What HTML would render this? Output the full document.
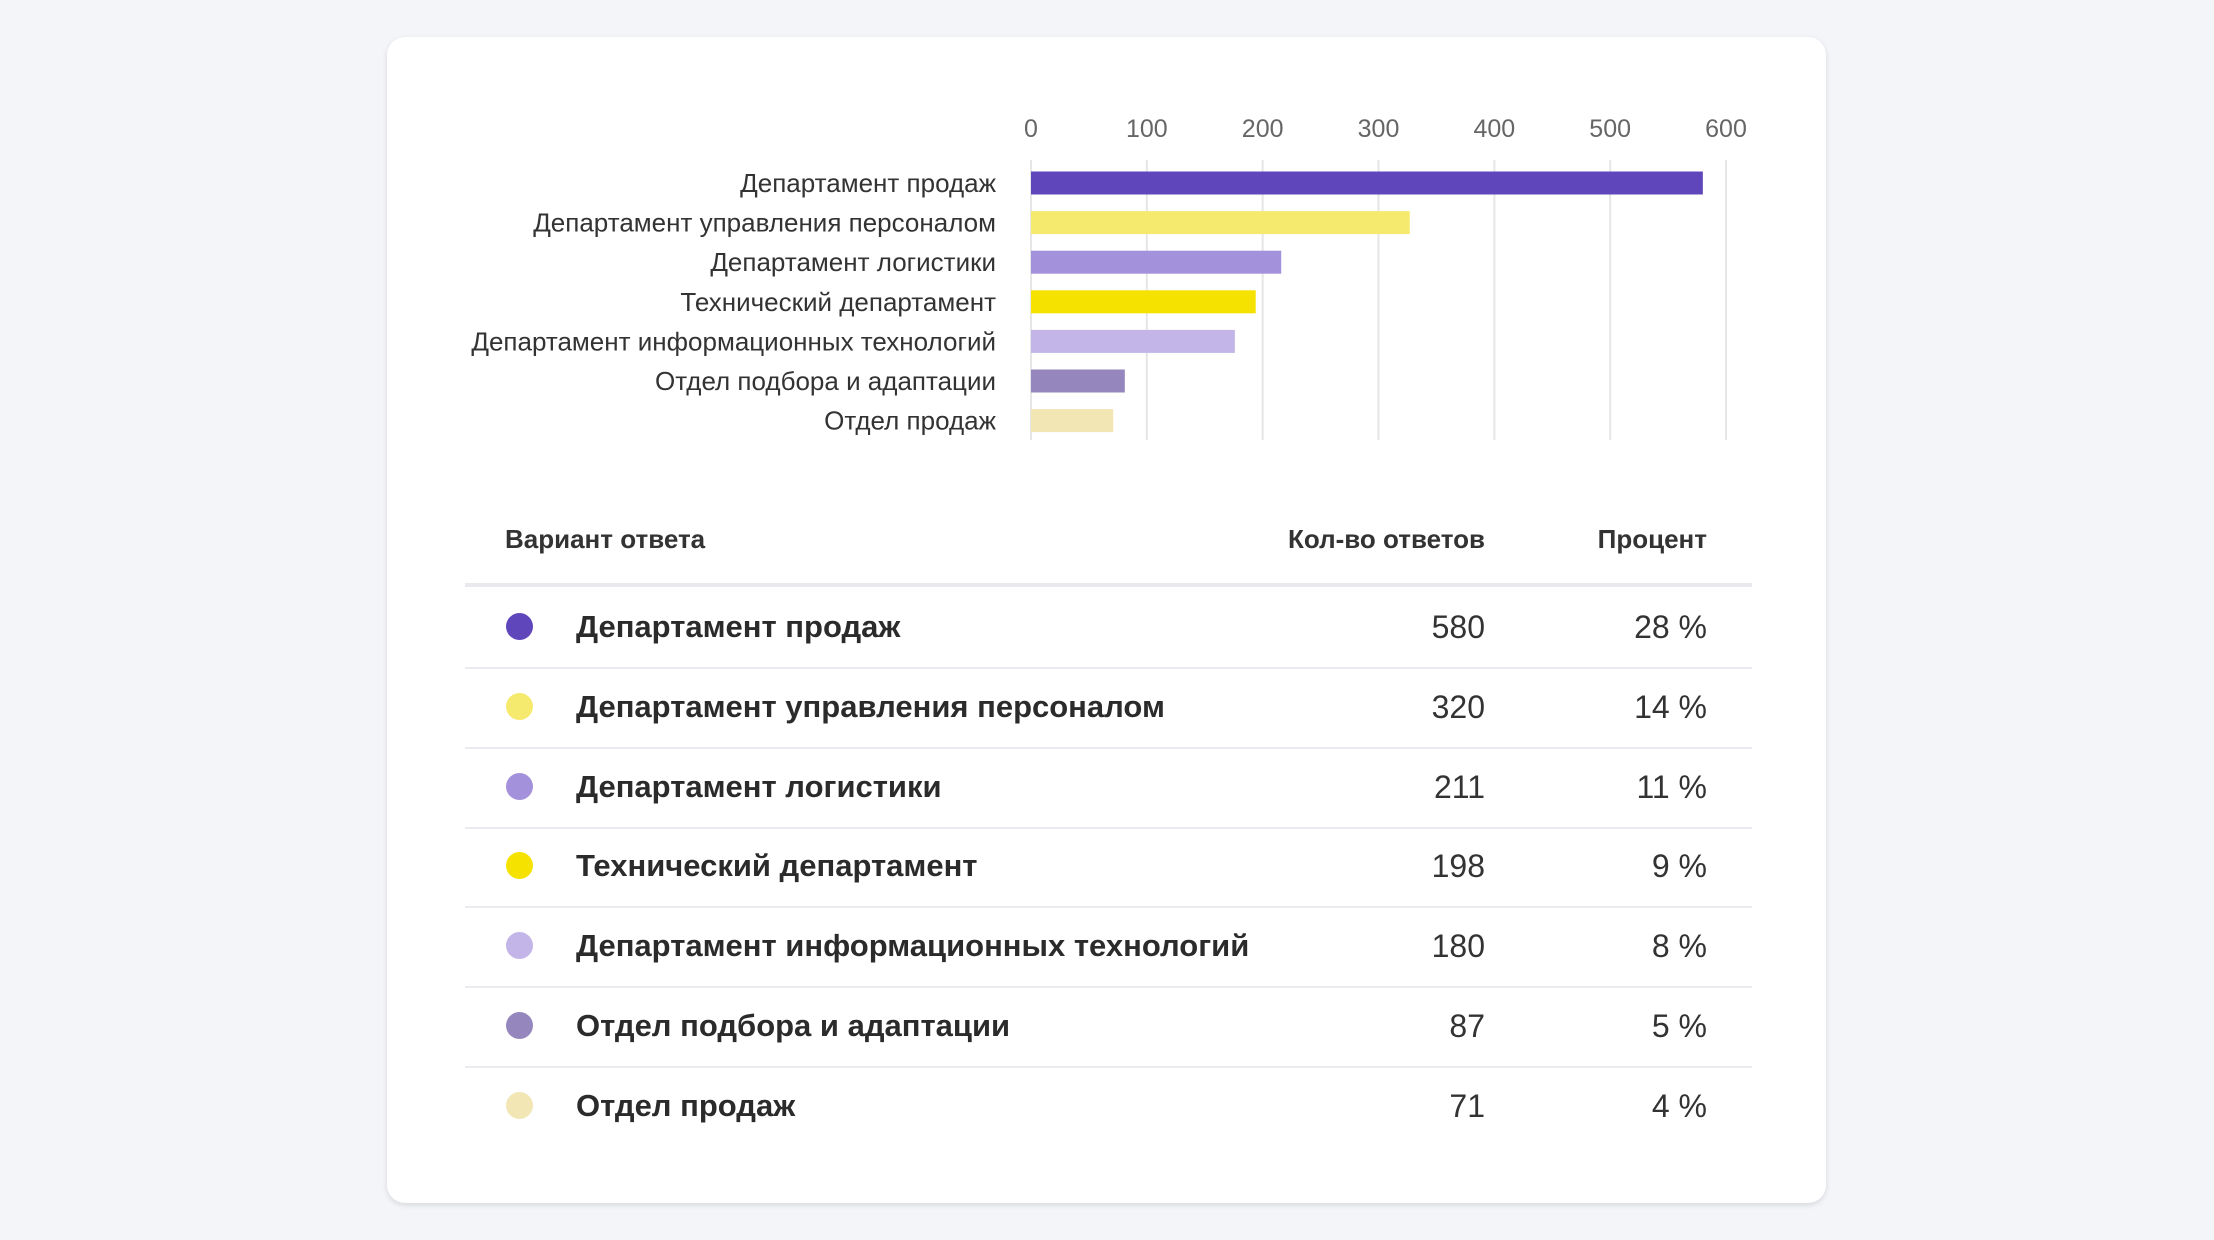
<!DOCTYPE html>
<html><head><meta charset="utf-8"><style>
body{margin:0;width:2214px;height:1240px;background:#f4f5f9;font-family:"Liberation Sans",sans-serif;position:relative;overflow:hidden}
.card{position:absolute;left:387px;top:37px;width:1439px;height:1166px;background:#fff;border-radius:18px;box-shadow:0 2px 6px rgba(0,0,0,0.12)}
.abs{position:absolute;white-space:nowrap}
.hd{font-weight:bold;font-size:26px;color:#333;top:524px}
.row{position:absolute;left:465px;width:1287px;height:80px;border-bottom:2px solid #e9ebee}
.dot{position:absolute;left:41px;width:27px;height:27px;border-radius:50%;top:26px}
.nm{position:absolute;left:111px;top:22px;font-size:31px;font-weight:bold;color:#2b2b2b}
.num{position:absolute;right:267px;top:22px;font-size:32px;color:#333}
.pct{position:absolute;right:45px;top:22px;font-size:32px;color:#333}
</style></head><body>
<div class="card"></div>
<svg id="chart" class="abs" style="left:0;top:0" width="2214" height="480"></svg>
<div class="abs hd" style="left:505px">Вариант ответа</div>
<div class="abs hd" style="right:729px">Кол-во ответов</div>
<div class="abs hd" style="right:507px">Процент</div>
<div class="abs" style="left:465px;top:583px;width:1287px;height:4px;background:#e8eaee"></div>
<div id="table"></div>
<script>
const categories=["Департамент продаж","Департамент управления персоналом","Департамент логистики","Технический департамент","Департамент информационных технологий","Отдел подбора и адаптации","Отдел продаж"];
const barValues=[580,327,216,194,176,81,71];
const tableCounts=[580,320,211,198,180,87,71];
const tablePercents=["28 %","14 %","11 %","9 %","8 %","5 %","4 %"];
const colors=["#5f47bb","#f5e96e","#a491dc","#f5e200","#c3b5e8","#9587be","#f1e6b4"];
const ticks=[0,100,200,300,400,500,600];
const NS="http://www.w3.org/2000/svg";
const svg=document.getElementById('chart');
const x=v=>1031+v*(1726-1031)/600;
const y=i=>183+i*39.6;
function mk(t,a){const e=document.createElementNS(NS,t);for(const k in a)e.setAttribute(k,a[k]);svg.appendChild(e);return e;}
ticks.forEach(t=>{
  const l=mk('line',{x1:x(t),x2:x(t),y1:160,y2:440,stroke:'#e6e6e6','stroke-width':2});
  
  
  const tx=mk('text',{x:x(t),y:137,'text-anchor':'middle','font-size':25,fill:'#666','font-family':'Liberation Sans, sans-serif'});
  tx.textContent=t;
  
  
});
categories.forEach((c,i)=>{
  const r=mk('rect',{x:x(0),y:y(i)-11.5,width:x(barValues[i])-x(0),height:23,fill:colors[i]});
  
  
  const t=mk('text',{x:996,y:y(i)+9,'text-anchor':'end','font-size':26,fill:'#333','font-family':'Liberation Sans, sans-serif'});
  t.textContent=c;
  
  
});
const tb=document.getElementById('table');
categories.forEach((c,i)=>{
  const r=document.createElement('div');r.className='row';r.style.top=(587+i*79.8)+'px';
  if(i==6)r.style.borderBottom='none';
  
  
  r.innerHTML=`<div class="dot" style="background:${colors[i]}"></div><div class="nm">${c}</div><div class="num">${tableCounts[i]}</div><div class="pct">${tablePercents[i]}</div>`;
  tb.appendChild(r);
});
</script>
</body></html>
